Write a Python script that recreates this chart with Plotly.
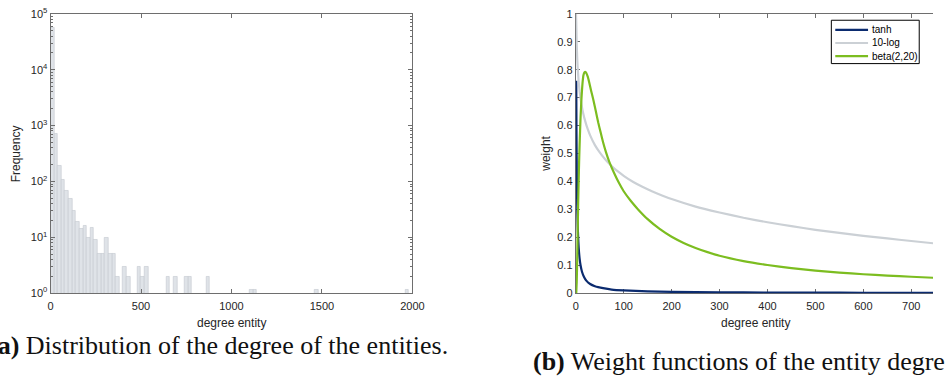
import plotly.graph_objects as go

W, H = 945, 385

# ---------------- data: (a) histogram of entity degree ----------------
bin_left = [0, 20, 40, 60, 80, 100, 120, 140, 160, 180, 200, 220, 240, 260, 280,
            300, 320, 340, 360, 400, 420, 480, 500, 520, 640, 680, 740, 760, 860,
            1100, 1120, 1460, 1960]
bin_count = [56000, 700, 194, 107, 67, 48, 30, 19, 14, 16, 10, 15, 9, 5, 5,
             10, 5, 5, 2, 3, 2, 3, 2, 3, 2, 2, 2, 2, 2,
             1.17, 1.17, 1.17, 1.17]
bin_width = 20

# ---------------- data: (b) weight functions ----------------
tanh_x = [1, 1.5, 2, 3, 4, 5, 6, 8, 10, 13, 17, 22, 30, 40, 57, 75, 100, 150,
          200, 300, 400, 500, 600, 750]
tanh_y = [0.76, 0.58, 0.46, 0.32, 0.245, 0.2, 0.165, 0.125, 0.1, 0.077, 0.059,
          0.045, 0.033, 0.025, 0.018, 0.013, 0.01, 0.0067, 0.005, 0.0033,
          0.0025, 0.002, 0.0017, 0.0013]

log_x = [0.5, 1, 2, 3, 4, 6, 8, 10, 12, 15, 20, 25, 30, 40, 50, 60, 70, 80, 90,
         100, 120, 140, 160, 180, 200, 250, 300, 350, 400, 450, 500, 550, 600,
         650, 700, 750]
log_y = [1.0, 0.97, 0.89, 0.842, 0.807, 0.758, 0.723, 0.697, 0.675, 0.648,
         0.614, 0.587, 0.565, 0.53, 0.504, 0.482, 0.463, 0.447, 0.433, 0.42,
         0.398, 0.38, 0.364, 0.35, 0.337, 0.31, 0.289, 0.27, 0.254, 0.24, 0.227,
         0.216, 0.205, 0.196, 0.187, 0.178]

beta_x = [1, 2, 3, 4, 5, 6, 7, 8, 9, 10, 12, 14, 16, 18, 20, 22, 25, 28, 32, 37,
          42, 47, 52, 57, 63, 70, 80, 90, 100, 115, 130, 150, 175, 200, 225, 250,
          275, 300, 350, 400, 450, 500, 550, 600, 650, 700, 750]
beta_y = [0.0, 0.04, 0.12, 0.22, 0.32, 0.40, 0.47, 0.53, 0.58, 0.63, 0.70, 0.75,
          0.78, 0.79, 0.792, 0.788, 0.775, 0.755, 0.725, 0.69, 0.65, 0.61, 0.575,
          0.54, 0.505, 0.47, 0.43, 0.395, 0.365, 0.33, 0.30, 0.265, 0.23, 0.202,
          0.18, 0.162, 0.147, 0.134, 0.115, 0.101, 0.09, 0.081, 0.074, 0.068,
          0.063, 0.059, 0.055]

series_names = ["tanh", "10-log", "beta(2,20)"]
series_colors = ["#0b2b6f", "#cbd0d5", "#7cbd20"]

left_ticks = [0, 500, 1000, 1500, 2000]
log_ticks = [1, 10, 100, 1000, 10000, 100000]
log_tick_text = ["10<sup>%d</sup>" % i for i in range(6)]
right_xticks = [0, 100, 200, 300, 400, 500, 600, 700]
right_yticks = [0, 0.1, 0.2, 0.3, 0.4, 0.5, 0.6, 0.7, 0.8, 0.9, 1]
right_ytext = ["0", "0.1", "0.2", "0.3", "0.4", "0.5", "0.6", "0.7", "0.8", "0.9", "1"]

minor_log = [m * 10 ** e for e in range(5) for m in range(2, 10)]

# ---------------- geometry (pixels) ----------------
L_x0, L_x1 = 48.3, 416.0
R_x0 = 582.0
R_scale = 0.487          # px per unit on right x-axis
top_px, bot_px = 6.0, 296.0


def fx(px):
    return px / W


def fy(py):
    return (H - py) / H


fig = go.Figure()

fig.add_trace(go.Bar(
    x=bin_left, y=bin_count, width=bin_width, offset=0,
    marker=dict(color="#dfe3e8", line=dict(color="#c3c8ce", width=0.6)),
    xaxis="x", yaxis="y", showlegend=False,
))

for xs, ys, name, col in zip([tanh_x, log_x, beta_x], [tanh_y, log_y, beta_y],
                             series_names, series_colors):
    fig.add_trace(go.Scatter(
        x=xs, y=ys, mode="lines", name=name,
        line=dict(color=col, width=2.2, shape="spline", smoothing=0.4),
        xaxis="x2", yaxis="y2", showlegend=False,
    ))

axis_font = dict(family="Liberation Sans, Arial", size=11, color="#262626")
line_col = "#6e6e6e"

fig.update_layout(
    width=W, height=H,
    margin=dict(l=0, r=0, t=0, b=0),
    paper_bgcolor="white", plot_bgcolor="white",
    bargap=0,
    font=axis_font,
    showlegend=False,
    xaxis=dict(domain=[fx(L_x0), fx(L_x1)], range=[0, 2000],
               tickvals=left_ticks, ticktext=[str(t) for t in left_ticks],
               ticks="inside", ticklen=4, tickcolor=line_col,
               ticklabelstandoff=3, ticklabeloverflow="allow",
               showline=True, linecolor=line_col, linewidth=1, mirror="ticks",
               showgrid=False, zeroline=False, anchor="y"),
    yaxis=dict(domain=[fy(bot_px), fy(top_px)], type="log", range=[0, 5],
               tickvals=log_ticks, ticktext=log_tick_text,
               ticks="inside", ticklen=4, tickcolor=line_col,
               ticklabeloverflow="allow",
               minor=dict(tickvals=minor_log, ticks="inside", ticklen=2,
                          tickcolor=line_col, showgrid=False),
               showline=True, linecolor=line_col, linewidth=1, mirror="allticks",
               showgrid=False, zeroline=False, anchor="x"),
    xaxis2=dict(domain=[fx(R_x0), 1.0], range=[0, (W - R_x0) / R_scale],
                tickvals=right_xticks, ticktext=[str(t) for t in right_xticks],
                ticks="inside", ticklen=4, tickcolor=line_col,
                ticklabelstandoff=3, ticklabeloverflow="allow",
                showline=True, linecolor=line_col, linewidth=1, mirror="ticks",
                showgrid=False, zeroline=False, anchor="y2", layer="below traces"),
    yaxis2=dict(domain=[fy(bot_px), fy(top_px)], range=[0, 1],
                tickvals=right_yticks, ticktext=right_ytext,
                ticks="inside", ticklen=4, tickcolor=line_col,
                ticklabeloverflow="allow",
                showline=True, linecolor=line_col, linewidth=1, mirror=False,
                showgrid=False, zeroline=False, anchor="x2", layer="below traces"),
)

# ---------------- custom compact legend ----------------
shapes = []
ann = []
leg_x0, leg_x1, leg_y0, leg_y1 = 841.7, 931.0, 12.7, 57.7
shapes.append(dict(type="rect", xref="paper", yref="paper",
                   x0=fx(leg_x0), x1=fx(leg_x1), y0=fy(leg_y1), y1=fy(leg_y0),
                   line=dict(color="#000000", width=1), fillcolor="white",
                   layer="above"))
row_y = [22.7, 36.3, 50.0]
for name, col, ry in zip(series_names, series_colors, row_y):
    shapes.append(dict(type="line", xref="paper", yref="paper",
                       x0=fx(845.7), x1=fx(879), y0=fy(ry), y1=fy(ry),
                       line=dict(color=col, width=2.2), layer="above"))
    ann.append(dict(text=name, x=fx(880.5), y=fy(ry), xref="paper", yref="paper",
                    showarrow=False, xanchor="left", yanchor="middle",
                    font=dict(family="Liberation Sans, Arial", size=10, color="#000000")))

title_font = dict(family="Liberation Sans, Arial", size=12, color="#262626")
ann.append(dict(text="degree entity", x=fx((L_x0 + L_x1) / 2), y=fy(327),
                xref="paper", yref="paper", showarrow=False, font=title_font,
                xanchor="center", yanchor="middle"))
ann.append(dict(text="degree entity", x=fx(R_x0 + 750 * R_scale / 2), y=fy(327),
                xref="paper", yref="paper", showarrow=False, font=title_font,
                xanchor="center", yanchor="middle"))
ann.append(dict(text="Frequency", x=fx(13), y=fy(151), textangle=-90,
                xref="paper", yref="paper", showarrow=False, font=title_font,
                xanchor="center", yanchor="middle"))
ann.append(dict(text="weight", x=fx(551), y=fy(151), textangle=-90,
                xref="paper", yref="paper", showarrow=False, font=title_font,
                xanchor="center", yanchor="middle"))
cap_font = dict(family="Liberation Serif, Times New Roman", size=26, color="#111111")
ann.append(dict(text="<b>(a)</b> Distribution of the degree of the entities.",
                x=fx(454), y=fy(350), xref="paper", yref="paper", showarrow=False,
                font=cap_font, xanchor="right", yanchor="middle"))
ann.append(dict(text="<b>(b)</b> Weight functions of the entity degree.",
                x=fx(537), y=fy(367), xref="paper", yref="paper", showarrow=False,
                font=cap_font, xanchor="left", yanchor="middle"))
fig.update_layout(annotations=ann, shapes=shapes)

fig.write_html("out.html")
